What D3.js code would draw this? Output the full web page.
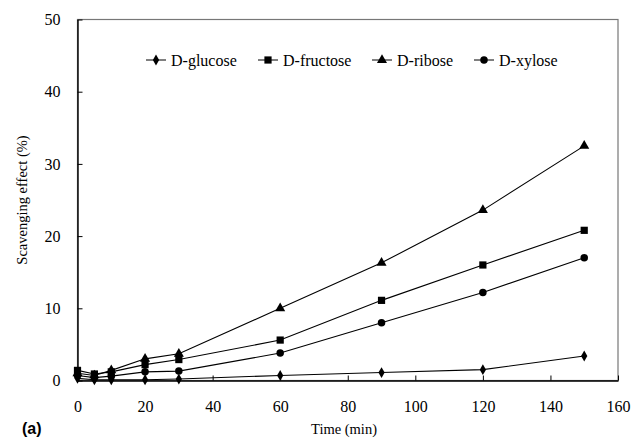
<!DOCTYPE html>
<html>
<head>
<meta charset="utf-8">
<script src="https://cdn.jsdelivr.net/npm/d3@7"></script>
<style>
  body { margin: 0; background: #fff; }
  svg { display: block; }
</style>
</head>
<body>
<div id="chart"></div>
<script>
// data
const times = [0, 5, 10, 20, 30, 60, 90, 120, 150];
const seriesNames = ["D-glucose", "D-fructose", "D-ribose", "D-xylose"];
const glucose  = [0.3, 0.1, 0.1, 0.1, 0.2, 0.7, 1.1, 1.5, 3.4];
const fructose = [1.4, 0.9, 1.2, 2.2, 2.9, 5.6, 11.1, 16.0, 20.8];
const ribose   = [1.0, 0.7, 1.4, 3.0, 3.7, 10.0, 16.3, 23.6, 32.5];
const xylose   = [0.7, 0.4, 0.6, 1.2, 1.3, 3.8, 8.0, 12.2, 17.0];
const xTicks = [0, 20, 40, 60, 80, 100, 120, 140, 160];
const yTicks = [0, 10, 20, 30, 40, 50];

const symbols = [d3.symbolDiamond, d3.symbolSquare, d3.symbolTriangle, d3.symbolCircle];
const symSizes = [34, 52, 44, 44];
const allValues = [glucose, fructose, ribose, xylose];

const W = 632, H = 439;
const margin = {top: 19.5, right: 14, bottom: 58.5, left: 77.5};
const w = W - margin.left - margin.right;
const h = H - margin.top - margin.bottom;

const serif = "'Liberation Serif', 'Times New Roman', serif";

const svg = d3.select("#chart").append("svg")
    .attr("width", W)
    .attr("height", H)
    .style("font-family", serif);

const g = svg.append("g")
    .attr("transform", "translate(" + margin.left + "," + margin.top + ")");

const x = d3.scaleLinear().domain([0, 160]).range([0, w]);
const y = d3.scaleLinear().domain([0, 50]).range([h, 0]);

// frame (top and right in grey)
g.append("rect")
  .attr("x", 0).attr("y", 0)
  .attr("width", w).attr("height", h)
  .attr("fill", "none")
  .attr("stroke", "#777")
  .attr("stroke-width", 1.2);

// axes, ticks pointing inward
const xAxis = g.append("g")
  .attr("transform", "translate(0," + h + ")")
  .call(d3.axisBottom(x).tickValues(xTicks).tickSizeInner(-5).tickSizeOuter(0).tickPadding(20));
const yAxis = g.append("g")
  .call(d3.axisLeft(y).tickValues(yTicks).tickSizeInner(-5).tickSizeOuter(0).tickPadding(17));

[xAxis, yAxis].forEach(function(a){
  a.attr("font-family", serif).attr("font-size", 16);
  a.select(".domain").attr("stroke", "#000").attr("stroke-width", 1.4);
  a.selectAll(".tick line").attr("stroke", "#000");
  a.selectAll(".tick text")
    .attr("font-family", serif)
    .style("font-family", serif)
    .style("font-size", "16px")
    .attr("fill", "#000");
});

// lines and markers
const line = d3.line()
  .x(function(d, i){ return x(times[i]); })
  .y(function(d){ return y(d); });

allValues.forEach(function(vals, k){
  g.append("path")
    .datum(vals)
    .attr("d", line)
    .attr("fill", "none")
    .attr("stroke", "#000")
    .attr("stroke-width", 1.1);

  g.selectAll(".pt" + k)
    .data(vals)
    .enter().append("path")
      .attr("class", "pt" + k)
      .attr("transform", function(d, i){ return "translate(" + x(times[i]) + "," + y(d) + ")"; })
      .attr("d", d3.symbol().type(symbols[k]).size(symSizes[k]))
      .attr("fill", "#000");
});

// legend
const legendX = [146, 258, 372, 474];
const legend = svg.append("g").attr("transform", "translate(0,60)");
seriesNames.forEach(function(name, k){
  const lg = legend.append("g").attr("transform", "translate(" + legendX[k] + ",0)");
  lg.append("line")
    .attr("x1", 0).attr("x2", 20)
    .attr("y1", 0).attr("y2", 0)
    .attr("stroke", "#000");
  lg.append("path")
    .attr("transform", "translate(10,0)")
    .attr("d", d3.symbol().type(symbols[k]).size(symSizes[k]))
    .attr("fill", "#000");
  lg.append("text")
    .attr("x", 25)
    .attr("dy", "0.35em")
    .style("font-family", serif)
    .style("font-size", "16px")
    .text(name);
});

// axis titles
svg.append("text")
  .attr("x", 344)
  .attr("y", 434)
  .attr("text-anchor", "middle")
  .style("font-family", serif)
  .style("font-size", "14.5px")
  .text("Time (min)");

svg.append("text")
  .attr("transform", "translate(22," + (margin.top + h / 2) + ") rotate(-90)")
  .attr("text-anchor", "middle")
  .attr("dy", "0.35em")
  .style("font-family", serif)
  .style("font-size", "14.5px")
  .text("Scavenging effect (%)");

svg.append("text")
  .attr("x", 22)
  .attr("y", 434)
  .style("font-family", "'Liberation Sans', Arial, sans-serif")
  .style("font-size", "16px")
  .style("font-weight", "bold")
  .text("(a)");
</script>
</body>
</html>
